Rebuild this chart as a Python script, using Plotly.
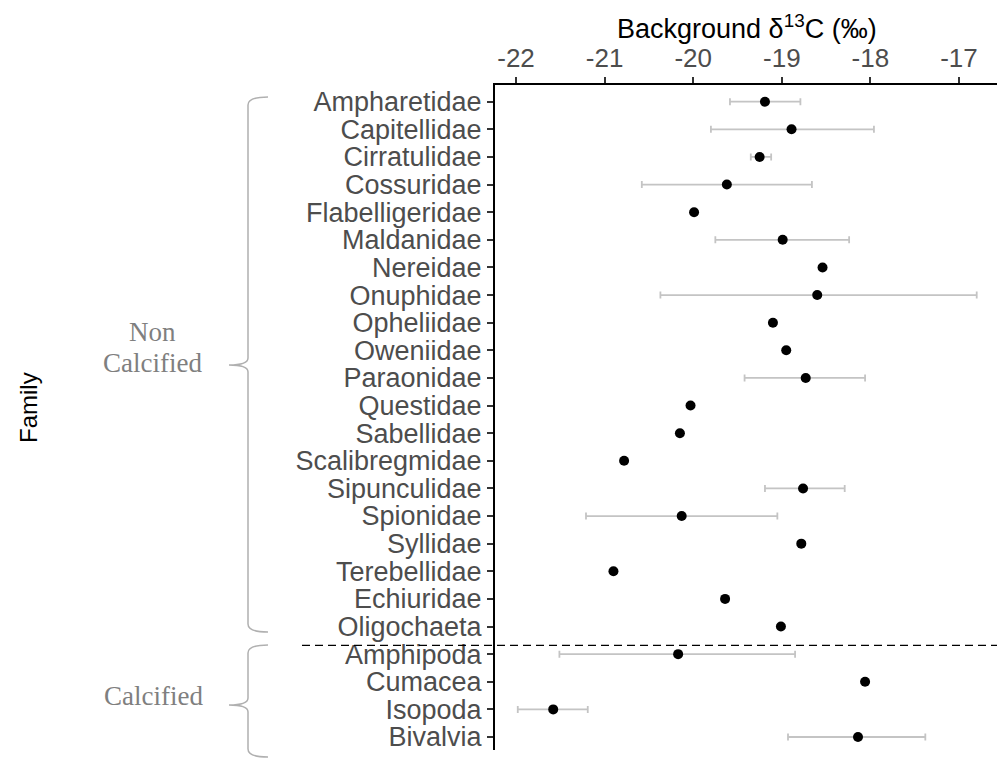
import plotly.graph_objects as go

# ---------------- data ----------------
families = ["Ampharetidae", "Capitellidae", "Cirratulidae", "Cossuridae", "Flabelligeridae",
            "Maldanidae", "Nereidae", "Onuphidae", "Opheliidae", "Oweniidae", "Paraonidae",
            "Questidae", "Sabellidae", "Scalibregmidae", "Sipunculidae", "Spionidae",
            "Syllidae", "Terebellidae", "Echiuridae", "Oligochaeta", "Amphipoda",
            "Cumacea", "Isopoda", "Bivalvia"]
mean_d13c = [-19.19, -18.89, -19.25, -19.62, -19.99, -18.99, -18.54, -18.60, -19.10, -18.95,
             -18.73, -20.03, -20.15, -20.78, -18.76, -20.13, -18.78, -20.90, -19.64, -19.01,
             -20.17, -18.06, -21.58, -18.14]
lower_d13c = [-19.585, -19.80, -19.35, -20.58, None, -19.75, None, -20.37, None, None,
              -19.42, None, None, None, -19.19, -21.21, None, None, None, None,
              -21.51, None, -21.98, -18.93]
upper_d13c = [-18.79, -17.96, -19.12, -18.66, None, -18.24, None, -16.80, None, None,
              -18.06, None, None, None, -18.29, -19.05, None, None, None, None,
              -18.85, None, -21.19, -17.38]
x_tickvals = [-22, -21, -20, -19, -18, -17]
x_ticktext = ["-22", "-21", "-20", "-19", "-18", "-17"]
x_range = [-22.237, -16.571]
y_range = [23.47, -0.605]
group_split = 19.68  # position of dashed separator (category units)

# ---------------- layout geometry ----------------
W, H = 997, 761
ML, MR, MT, MB = 495, 0, 85, 11
PW, PH = W - ML - MR, H - MT - MB


def px(xp):
    return (xp - ML) / PW


def py(yp):
    return (H - MB - yp) / PH


fig = go.Figure()

# error bars (only rows that have them)
eb_y, eb_x, eb_plus, eb_minus = [], [], [], []
for f, m, lo, hi in zip(families, mean_d13c, lower_d13c, upper_d13c):
    if lo is not None:
        eb_y.append(f)
        eb_x.append(m)
        eb_plus.append(hi - m)
        eb_minus.append(m - lo)

fig.add_trace(go.Scatter(
    x=eb_x, y=eb_y, mode="markers",
    marker=dict(size=1, opacity=0),
    error_x=dict(type="data", symmetric=False, array=eb_plus, arrayminus=eb_minus,
                 color="#c4c4c4", thickness=1.8, width=3.5),
    hoverinfo="skip"))

fig.add_trace(go.Scatter(
    x=mean_d13c, y=families, mode="markers",
    marker=dict(size=10, color="black")))

font_sans = "Liberation Sans, Arial, sans-serif"
font_serif = "Liberation Serif, Times New Roman, serif"

fig.update_layout(
    width=W, height=H,
    margin=dict(l=ML, r=MR, t=MT, b=MB),
    paper_bgcolor="white", plot_bgcolor="white",
    showlegend=False,
    xaxis=dict(side="top", range=x_range, tickvals=x_tickvals, ticktext=x_ticktext,
               tickfont=dict(family=font_sans, size=26, color="#4d4d4d"),
               showline=True, linecolor="black", linewidth=2,
               ticks="outside", ticklen=6, tickwidth=1.5, tickcolor="#333333",
               showgrid=False, zeroline=False),
    yaxis=dict(type="category", categoryarray=families, range=y_range,
               tickmode="array", tickvals=families, ticktext=families,
               tickfont=dict(family=font_sans, size=27, color="#4d4d4d"),
               showline=True, linecolor="black", linewidth=2,
               ticks="outside", ticklen=6, tickwidth=1.5, tickcolor="#333333",
               showgrid=False, zeroline=False),
)

# dashed separator
fig.add_shape(type="line", xref="paper", yref="y",
              x0=px(302), x1=1, y0=group_split, y1=group_split,
              line=dict(color="black", width=1.2, dash="8px,5px"))


def brace(x, ytop, ymid, ybot, tip, hook):
    pts = [
        f"M {px(hook)},{py(ytop)}",
        f"Q {px(x)},{py(ytop)} {px(x)},{py(ytop + 8)}",
        f"L {px(x)},{py(ymid - 7)}",
        f"Q {px(x)},{py(ymid)} {px(tip)},{py(ymid)}",
        f"Q {px(x)},{py(ymid)} {px(x)},{py(ymid + 7)}",
        f"L {px(x)},{py(ybot - 8)}",
        f"Q {px(x)},{py(ybot)} {px(hook)},{py(ybot)}",
    ]
    return " ".join(pts)


for (yt, ym, yb) in [(97, 365, 632), (645, 705, 757)]:
    fig.add_shape(type="path", xref="paper", yref="paper",
                  path=brace(248, yt, ym, yb, 229, 268),
                  line=dict(color="#b0b0b0", width=1.5))

# titles / group labels
fig.add_annotation(xref="paper", yref="paper", x=px(747), y=py(27),
                   text="Background δ<sup>13</sup>C (‰)", showarrow=False,
                   font=dict(family=font_sans, size=27, color="black"),
                   xanchor="center", yanchor="middle")
fig.add_annotation(xref="paper", yref="paper", x=px(28), y=py(408),
                   text="Family", textangle=-90, showarrow=False,
                   font=dict(family=font_sans, size=24, color="black"),
                   xanchor="center", yanchor="middle")
fig.add_annotation(xref="paper", yref="paper", x=px(152), y=py(332),
                   text="Non", showarrow=False,
                   font=dict(family=font_serif, size=27, color="#7f7f7f"),
                   xanchor="center", yanchor="middle")
fig.add_annotation(xref="paper", yref="paper", x=px(152), y=py(363),
                   text="Calcified", showarrow=False,
                   font=dict(family=font_serif, size=27, color="#7f7f7f"),
                   xanchor="center", yanchor="middle")
fig.add_annotation(xref="paper", yref="paper", x=px(153), y=py(696),
                   text="Calcified", showarrow=False,
                   font=dict(family=font_serif, size=27, color="#7f7f7f"),
                   xanchor="center", yanchor="middle")

fig.write_html("out.html")
